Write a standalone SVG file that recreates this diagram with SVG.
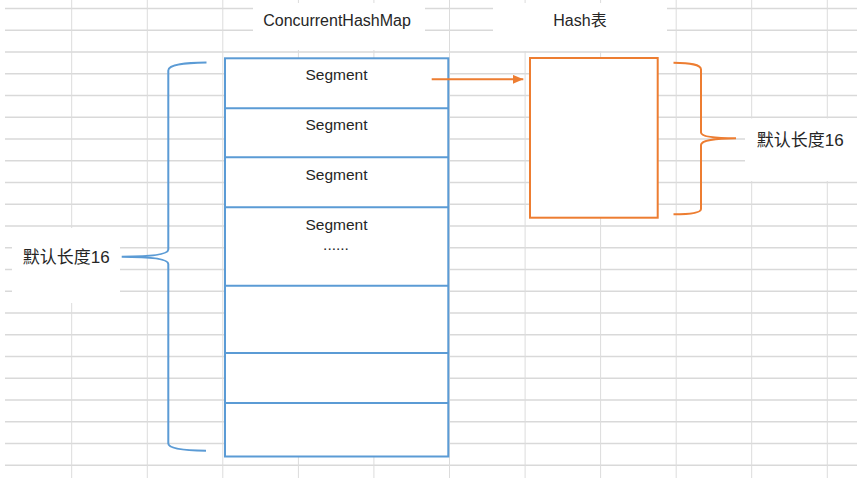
<svg xmlns="http://www.w3.org/2000/svg" width="863" height="491" viewBox="0 0 863 491">
<defs>
<style>
.grid-h{stroke:#d9d9d9;stroke-width:1.3}
.grid-v{stroke:#dcdcdc;stroke-width:1}
.patch{fill:#ffffff}
.blue{fill:#ffffff;stroke:#5b9bd5;stroke-width:2}
.blue-line{stroke:#5b9bd5;stroke-width:2;fill:none}
.orange{fill:#ffffff;stroke:#ed7d31;stroke-width:2}
.orange-line{stroke:#ed7d31;stroke-width:2;fill:none}
.lbl{font-family:"Liberation Sans","Noto Sans CJK SC",sans-serif;fill:#262626}
.seg{font-size:15.5px;text-anchor:middle}
.title{font-size:16px;text-anchor:middle}
.cn{font-size:17px}
</style>
<marker id="arrow" markerWidth="11" markerHeight="10" refX="10.5" refY="4.5" orient="auto" markerUnits="userSpaceOnUse">
<path d="M0,0 L10.5,4.5 L0,9 Z" fill="#ed7d31"/>
</marker>
</defs>
<rect width="863" height="491" fill="#ffffff"/>
<g id="grid">
<g class="grid-h">
<line x1="5" y1="8.5" x2="857" y2="8.5"/>
<line x1="5" y1="30.25" x2="857" y2="30.25"/>
<line x1="5" y1="52" x2="857" y2="52"/>
<line x1="5" y1="73.75" x2="857" y2="73.75"/>
<line x1="5" y1="95.5" x2="857" y2="95.5"/>
<line x1="5" y1="117.25" x2="857" y2="117.25"/>
<line x1="5" y1="139" x2="857" y2="139"/>
<line x1="5" y1="160.75" x2="857" y2="160.75"/>
<line x1="5" y1="182.5" x2="857" y2="182.5"/>
<line x1="5" y1="204.25" x2="857" y2="204.25"/>
<line x1="5" y1="226" x2="857" y2="226"/>
<line x1="5" y1="247.75" x2="857" y2="247.75"/>
<line x1="5" y1="269.5" x2="857" y2="269.5"/>
<line x1="5" y1="291.25" x2="857" y2="291.25"/>
<line x1="5" y1="313" x2="857" y2="313"/>
<line x1="5" y1="334.75" x2="857" y2="334.75"/>
<line x1="5" y1="356.5" x2="857" y2="356.5"/>
<line x1="5" y1="378.25" x2="857" y2="378.25"/>
<line x1="5" y1="400" x2="857" y2="400"/>
<line x1="5" y1="421.75" x2="857" y2="421.75"/>
<line x1="5" y1="443.5" x2="857" y2="443.5"/>
<line x1="5" y1="465.25" x2="857" y2="465.25"/>
</g>
<g class="grid-v">
<line x1="71.7" y1="0" x2="71.7" y2="478"/>
<line x1="147.3" y1="0" x2="147.3" y2="478"/>
<line x1="222.8" y1="0" x2="222.8" y2="478"/>
<line x1="298.4" y1="0" x2="298.4" y2="478"/>
<line x1="373.9" y1="0" x2="373.9" y2="478"/>
<line x1="449.5" y1="0" x2="449.5" y2="478"/>
<line x1="525.1" y1="0" x2="525.1" y2="478"/>
<line x1="600.6" y1="0" x2="600.6" y2="478"/>
<line x1="676.2" y1="0" x2="676.2" y2="478"/>
<line x1="751.7" y1="0" x2="751.7" y2="478"/>
<line x1="827.3" y1="0" x2="827.3" y2="478"/>
</g>
<rect class="patch" x="253" y="3" width="172" height="47"/>
<rect class="patch" x="493" y="3" width="174" height="48"/>
<rect class="patch" x="745" y="118.5" width="114" height="62.5"/>
<rect class="patch" x="12" y="228" width="108" height="75"/>
</g>
<g id="title-chm"><text class="lbl title" x="337" y="25.5">ConcurrentHashMap</text></g>
<g id="title-hash"><text class="lbl title" x="580" y="25.5">Hash表</text></g>
<g id="segments">
<rect class="blue" x="225" y="58.3" width="223.3" height="398.2"/>
<g class="blue-line">
<line x1="225" y1="108.3" x2="448.3" y2="108.3"/>
<line x1="225" y1="157.3" x2="448.3" y2="157.3"/>
<line x1="225" y1="207.3" x2="448.3" y2="207.3"/>
<line x1="225" y1="285.7" x2="448.3" y2="285.7"/>
<line x1="225" y1="353" x2="448.3" y2="353"/>
<line x1="225" y1="403" x2="448.3" y2="403"/>
</g>
<text class="lbl seg" x="336.5" y="80">Segment</text>
<text class="lbl seg" x="336.5" y="130">Segment</text>
<text class="lbl seg" x="336.5" y="179.5">Segment</text>
<text class="lbl seg" x="336.5" y="229.5">Segment</text>
<text class="lbl seg" x="336" y="250">......</text>
</g>
<g id="hash-table">
<rect class="orange" x="530" y="58" width="127.7" height="159.7"/>
</g>
<g id="left-brace">
<path class="blue-line" d="M206.5,62.6 C187,63 168.3,64 168.3,70.5 L168.3,249.5 C168.3,254.5 150,256.7 121.7,256.7 M121.7,256.7 C150,256.7 168.3,258.8 168.3,264 L168.3,443.5 C168.3,449 187,450.5 206,450.7"/>
<text class="lbl cn" x="22.7" y="263">默认长度16</text>
</g>
<g id="right-brace">
<path class="orange-line" d="M673.5,62.7 C690,63 701,64 701,69.5 L701,132.5 C701,136.5 715,138.3 736,138.3 M736,138.3 C715,138.3 701,140.5 701,145 L701,209 C701,213 690,214.3 673.5,214.3"/>
<text class="lbl cn" x="756.7" y="145.5">默认长度16</text>
</g>
<g id="connectors">
<line class="orange-line" x1="431.7" y1="79.3" x2="523.3" y2="79.3" marker-end="url(#arrow)"/>
</g>
</svg>
